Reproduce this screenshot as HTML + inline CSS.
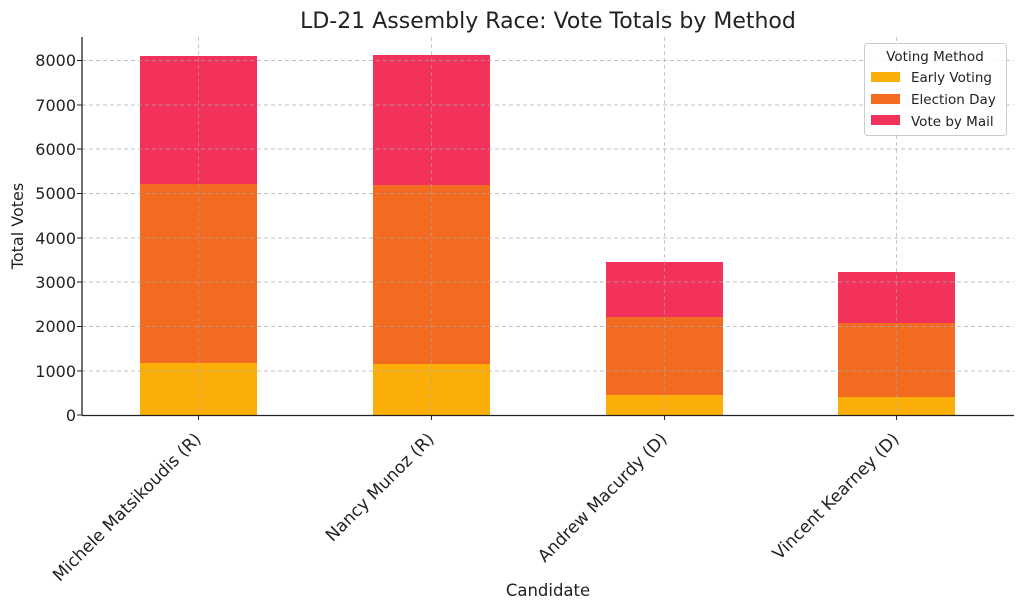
<!DOCTYPE html>
<html><head><meta charset="utf-8"><style>body{margin:0;background:#fff}svg{display:block}text{font-family:"DejaVu Sans","Liberation Sans",sans-serif;fill:#222}</style></head><body>
<svg width="1024" height="610" xmlns="http://www.w3.org/2000/svg">
<text x="548" y="28" font-size="22" text-anchor="middle">LD-21 Assembly Race: Vote Totals by Method</text>
<g>
<rect x="140" y="363" width="117" height="52" fill="#FBAE08"/>
<rect x="140" y="184" width="117" height="179" fill="#F26B21"/>
<rect x="140" y="56" width="117" height="128" fill="#F2325A"/>
<rect x="373" y="364" width="117" height="51" fill="#FBAE08"/>
<rect x="373" y="185" width="117" height="179" fill="#F26B21"/>
<rect x="373" y="55" width="117" height="130" fill="#F2325A"/>
<rect x="606" y="395" width="117" height="20" fill="#FBAE08"/>
<rect x="606" y="317" width="117" height="78" fill="#F26B21"/>
<rect x="606" y="262" width="117" height="55" fill="#F2325A"/>
<rect x="838" y="397" width="117" height="18" fill="#FBAE08"/>
<rect x="838" y="323" width="117" height="74" fill="#F26B21"/>
<rect x="838" y="272" width="117" height="51" fill="#F2325A"/>
</g>
<g stroke="#a8a8a8" stroke-opacity="0.7" stroke-dasharray="4,3" stroke-width="0.9">
<line x1="82" x2="1014" y1="371" y2="371"/><line x1="82" x2="1014" y1="326.5" y2="326.5"/>
<line x1="82" x2="1014" y1="282" y2="282"/><line x1="82" x2="1014" y1="238" y2="238"/>
<line x1="82" x2="1014" y1="193.5" y2="193.5"/><line x1="82" x2="1014" y1="149" y2="149"/>
<line x1="82" x2="1014" y1="105" y2="105"/><line x1="82" x2="1014" y1="60.5" y2="60.5"/>
<line x1="198.5" x2="198.5" y1="37" y2="415"/><line x1="431.5" x2="431.5" y1="37" y2="415"/>
<line x1="664.5" x2="664.5" y1="37" y2="415"/><line x1="896.5" x2="896.5" y1="37" y2="415"/>
</g>
<g stroke="#222" stroke-width="1.3">
<line x1="82" y1="37" x2="82" y2="415.5"/><line x1="82" y1="415.5" x2="1014" y2="415.5"/>
</g>
<g font-size="16" text-anchor="end">
<text x="76" y="421">0</text><text x="76" y="377">1000</text><text x="76" y="332">2000</text>
<text x="76" y="288">3000</text><text x="76" y="244">4000</text><text x="76" y="199">5000</text>
<text x="76" y="155">6000</text><text x="76" y="111">7000</text><text x="76" y="66">8000</text>
</g>
<g stroke="#222"><line x1="77" x2="82" y1="415" y2="415"/><line x1="77" x2="82" y1="371" y2="371"/><line x1="77" x2="82" y1="326.5" y2="326.5"/><line x1="77" x2="82" y1="282" y2="282"/><line x1="77" x2="82" y1="238" y2="238"/><line x1="77" x2="82" y1="193.5" y2="193.5"/><line x1="77" x2="82" y1="149" y2="149"/><line x1="77" x2="82" y1="105" y2="105"/><line x1="77" x2="82" y1="60.5" y2="60.5"/>
<line x1="198.5" x2="198.5" y1="415" y2="420"/><line x1="431.5" x2="431.5" y1="415" y2="420"/><line x1="664.5" x2="664.5" y1="415" y2="420"/><line x1="896.5" x2="896.5" y1="415" y2="420"/></g>
<text transform="translate(23,226) rotate(-90)" font-size="16" text-anchor="middle">Total Votes</text>
<g font-size="17" text-anchor="end">
<text transform="translate(202,440) rotate(-45)">Michele Matsikoudis (R)</text>
<text transform="translate(435,440) rotate(-45)">Nancy Munoz (R)</text>
<text transform="translate(668,440) rotate(-45)">Andrew Macurdy (D)</text>
<text transform="translate(900,440) rotate(-45)">Vincent Kearney (D)</text>
</g>
<text x="548" y="596" font-size="16.5" text-anchor="middle">Candidate</text>
<rect x="864.5" y="43.5" width="142" height="92" fill="#fff" fill-opacity="0.85" stroke="#ccc" rx="3"/>
<text x="935" y="61" font-size="13.5" text-anchor="middle">Voting Method</text>
<rect x="871" y="72" width="29" height="10" fill="#FBAE08"/>
<rect x="871" y="94" width="29" height="10" fill="#F26B21"/>
<rect x="871" y="115" width="29" height="10" fill="#F2325A"/>
<g font-size="13.5"><text x="911" y="82">Early Voting</text><text x="911" y="104">Election Day</text><text x="911" y="126">Vote by Mail</text></g>
</svg>
</body></html>
